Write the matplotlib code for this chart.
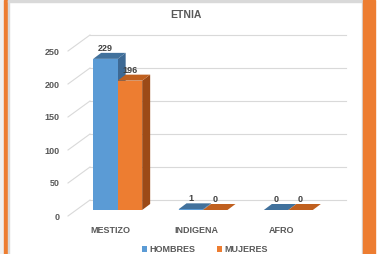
import matplotlib
matplotlib.use('Agg')
import matplotlib.pyplot as plt
from matplotlib.patches import Polygon, Rectangle
from matplotlib.transforms import ScaledTranslation

# datos
categorias = ['MESTIZO', 'INDIGENA', 'AFRO']
hombres = [229, 1, 0]
mujeres = [196, 0, 0]
series = ['HOMBRES', 'MUJERES']
yticks = [0, 50, 100, 150, 200, 250]

plt.rcParams['font.family'] = ['Liberation Sans', 'DejaVu Sans']
GRIS = '#595959'

W, H = 377, 254
fig = plt.figure(figsize=(W / 100, H / 100), dpi=100)

# marco (bordes de la captura)
fig.patches.append(Rectangle((0, 0), 4 / W, 1, transform=fig.transFigure, color='#F0F0F0', zorder=0))
fig.patches.append(Rectangle((4 / W, 0), 3.5 / W, 1, transform=fig.transFigure, color='#ED7D31', zorder=0))
fig.patches.append(Rectangle((7.5 / W, 0), 1 / W, 1, transform=fig.transFigure, color='#D9D9D9', zorder=0))
fig.patches.append(Rectangle((8 / W, (H - 1.5) / H), (362 - 8) / W, 1.5 / H, transform=fig.transFigure, color='#D9D9D9', zorder=0))
fig.patches.append(Rectangle((361.5 / W, 0), 1.5 / W, 1, transform=fig.transFigure, color='#D9D9D9', zorder=0))
fig.patches.append(Rectangle((363 / W, 0), 12 / W, 1, transform=fig.transFigure, color='#ED7D31', zorder=0))

# plano frontal del piso
L, R, T, B = 68, 324, 51, 216
ax = fig.add_axes([L / W, (H - B) / H, (R - L) / W, (B - T) / H])
ax.set_xlim(-0.5, 2.5)
ax.set_ylim(0, 250)
ax.patch.set_alpha(0)
for s in ax.spines.values():
    s.set_visible(False)

sx = 3.0 / (R - L)      # datos por pixel
sy = 250.0 / (B - T)

def desplaza(dx, dy):
    return ax.transData + ScaledTranslation(dx / 100, dy / 100, fig.dpi_scale_trans)

fondo = desplaza(22, 16)
barras = desplaza(7, 6)

# lineas de cuadricula en la pared del fondo + diagonales del lado izquierdo
for t in yticks:
    ax.plot([-0.5, 2.5], [t, t], color='#D9D9D9', lw=0.8, transform=fondo, clip_on=False, zorder=1)
    ax.plot([-0.5, -0.5 + 22 * sx], [t, t + 16 * sy], color='#D9D9D9', lw=0.8, clip_on=False, zorder=1)

ax.set_yticks(yticks)
ax.set_yticklabels([str(t) for t in yticks])
ax.set_xticks(range(len(categorias)))
ax.set_xticklabels(categorias)
ax.tick_params(length=0, labelsize=6.5, labelcolor=GRIS, pad=6)
ax.tick_params(axis='x', pad=7)
for lab in ax.get_xticklabels() + ax.get_yticklabels():
    lab.set_fontweight('bold')

w = 24.5 * sx
dx, dy = 8 * sx, 6 * sy
colores = [('#5B9BD5', '#41719C', '#3D6994'), ('#ED7D31', '#C0601F', '#9C4A17')]

for k, (vals, (cf, ct, cs)) in enumerate(zip([hombres, mujeres], colores)):
    for i, v in enumerate(vals):
        x0 = i - w + k * w
        x1 = x0 + w
        z = 3 + k
        ax.add_patch(Polygon([(x1, 0), (x1 + dx, dy), (x1 + dx, v + dy), (x1, v)], closed=True,
                             facecolor=cs, edgecolor='none', transform=barras, clip_on=False, zorder=z))
        ax.add_patch(Polygon([(x0, v), (x1, v), (x1 + dx, v + dy), (x0 + dx, v + dy)], closed=True,
                             facecolor=ct, edgecolor='none', transform=barras, clip_on=False, zorder=z))
        ax.text((x0 + x1) / 2, v + dy, str(v), ha='center', va='bottom', fontsize=6.5,
                fontweight='bold', color='#404040', transform=barras, zorder=10, clip_on=False)
    ax.bar([i - w / 2 + k * w for i in range(len(vals))], vals, w, color=cf, transform=barras,
           clip_on=False, zorder=3 + k, label=series[k])

fig.text(185.5 / W, (H - 15) / H, 'ETNIA', ha='center', va='center', fontsize=7.5,
         fontweight='bold', color=GRIS)

leg = fig.legend(loc='center', bbox_to_anchor=(205 / W, (H - 250) / H), ncol=2, frameon=False,
                 fontsize=6.5, handlelength=0.6, handleheight=0.6, handletextpad=0.3,
                 columnspacing=2.3, borderpad=0)
for t in leg.get_texts():
    t.set_color(GRIS)
    t.set_fontweight('bold')

fig.savefig('out.png', dpi=100)
